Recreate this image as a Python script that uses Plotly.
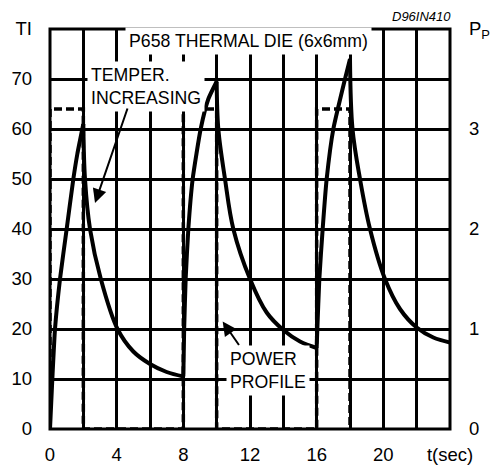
import plotly.graph_objects as go

# Temperature curve segments (time in s, temperature TI)
t_rise1 = [0.0, 0.14, 0.3, 0.6, 1.0, 1.4, 1.64, 2.0]
T_rise1 = [0, 10, 20, 30, 40, 50, 55, 61]
t_fall1 = [2.0, 2.1, 2.4, 3.05, 4.05, 5.0, 6.0, 7.0, 8.0]
T_fall1 = [61, 50, 40, 30, 20, 15.5, 13, 11.4, 10.5]
t_rise2 = [8.0, 8.05, 8.14, 8.3, 8.56, 9.04, 9.5, 10.0]
T_rise2 = [10.5, 20, 30, 40, 50, 60, 66, 69.5]
t_fall2 = [10.0, 10.1, 10.5, 11.0, 12.0, 13.0, 14.0, 15.0, 16.0]
T_fall2 = [69.5, 60, 50, 40, 30, 23.3, 19.8, 17.5, 16.2]
t_rise3 = [16.0, 16.04, 16.16, 16.36, 16.6, 17.0, 17.7, 18.0]
T_rise3 = [16.2, 20, 30, 40, 50, 60, 70, 74]
t_fall3 = [18.0, 18.15, 18.6, 19.2, 20.1, 21.0, 22.0, 23.0, 24.0]
T_fall3 = [74, 60, 50, 40, 30, 24, 20.3, 18.3, 17.3]

# Power profile (right axis, PP)
p_time = [0, 0, 2, 2, 8, 8, 10, 10, 16, 16, 18, 18]
p_val = [0, 3.2, 3.2, 0, 0, 3.2, 3.2, 0, 0, 3.2, 3.2, 0]

# Tick labels
x_tickvals = [0, 2, 4, 6, 8, 10, 12, 14, 16, 18, 20, 22, 24]
x_ticktext = ["0", "", "4", "", "8", "", "12", "", "16", "", "20", "", "t(sec)"]
y_tickvals = [0, 10, 20, 30, 40, 50, 60, 70, 80]
y_ticktext = ["0", "10", "20", "30", "40", "50", "60", "70", "TI"]
y2_tickvals = [0, 1, 2, 3, 4]
y2_ticktext = ["0", "1", "2", "3", "P<sub>P</sub>"]

FONT = "Liberation Sans, Arial, sans-serif"

fig = go.Figure()

fig.add_trace(go.Scatter(x=p_time, y=p_val, yaxis="y2", mode="lines",
                         line=dict(color="black", width=3.5, dash="8px,4px"),
                         hoverinfo="skip", showlegend=False))

segments = [(t_rise1, T_rise1, 0.5), (t_fall1, T_fall1, 1.0),
            (t_rise2, T_rise2, 0.5), (t_fall2, T_fall2, 1.0),
            (t_rise3, T_rise3, 0.5), (t_fall3, T_fall3, 1.0)]
for tt, TT, sm in segments:
    fig.add_trace(go.Scatter(x=tt, y=TT, mode="lines",
                             line=dict(color="black", width=4, shape="spline", smoothing=sm),
                             hoverinfo="skip", showlegend=False))

axis_common = dict(showline=False, showgrid=True, gridcolor="black", gridwidth=3,
                   zeroline=False, ticks="", automargin=False,
                   tickfont=dict(family=FONT, size=18.5, color="black"))

fig.update_layout(
    width=495, height=467,
    margin=dict(l=50, r=45, t=29, b=38),
    paper_bgcolor="white", plot_bgcolor="white",
    font=dict(family=FONT, size=17, color="black"),
    xaxis=dict(range=[0, 24], tickmode="array", tickvals=x_tickvals, ticktext=x_ticktext,
               ticklabelstandoff=12, **axis_common),
    yaxis=dict(range=[0, 80], tickmode="array", tickvals=y_tickvals, ticktext=y_ticktext,
               ticklabelstandoff=17, **axis_common),
    yaxis2=dict(range=[0, 4], overlaying="y", side="right", tickmode="array",
                tickvals=y2_tickvals, ticktext=y2_ticktext, showgrid=False, zeroline=False,
                showline=False, ticks="", ticklabelstandoff=18, automargin=False,
                tickfont=dict(family=FONT, size=18.5, color="black")),
    shapes=[dict(type="rect", xref="paper", yref="paper", x0=0, x1=1, y0=0, y1=1,
                 line=dict(color="black", width=3), layer="above")],
)

annotations = [
    dict(text="P658 THERMAL DIE (6x6mm)", x=11.88, y=77.6, xref="x", yref="y",
         showarrow=False, bgcolor="white", borderpad=3, font=dict(size=17.7)),
    dict(text="TEMPER.<br>INCREASING", x=2.2, y=68.6, xref="x", yref="y",
         xanchor="left", yanchor="middle", align="left",
         showarrow=False, bgcolor="white", borderpad=3, font=dict(size=17.7)),
    dict(text="POWER<br>PROFILE", x=10.56, y=11.8, xref="x", yref="y",
         xanchor="left", yanchor="middle", align="left",
         showarrow=False, bgcolor="white", borderpad=3, font=dict(size=17.7)),
    dict(text="", x=2.7, y=45.2, ax=4.68, ay=64.4, xref="x", yref="y", axref="x", ayref="y",
         showarrow=True, arrowhead=2, arrowsize=1.4, arrowwidth=2, arrowcolor="black"),
    dict(text="", x=10.36, y=21.5, ax=11.4, ay=16.5, xref="x", yref="y", axref="x", ayref="y",
         showarrow=True, arrowhead=2, arrowsize=1.4, arrowwidth=2, arrowcolor="black"),
    dict(text="<i>D96IN410</i>", x=1.0075, y=1.03, xref="paper", yref="paper",
         xanchor="right", yanchor="middle", showarrow=False, font=dict(size=13)),
]
fig.update_layout(annotations=annotations)

fig.write_html("out.html")
